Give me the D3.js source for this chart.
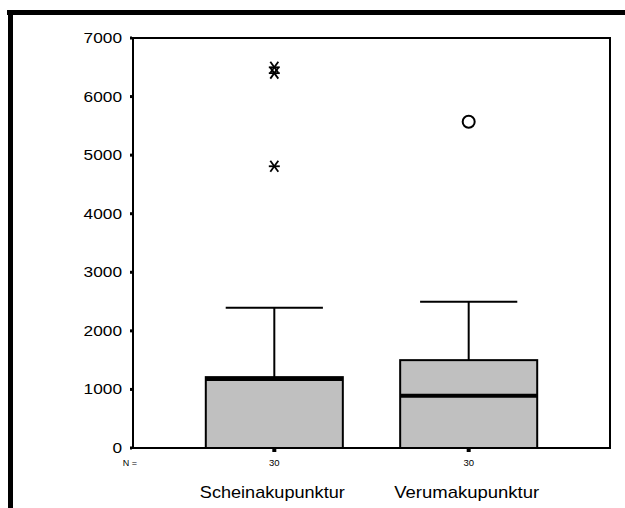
<!DOCTYPE html>
<html>
<head>
<meta charset="utf-8">
<script src="https://cdn.jsdelivr.net/npm/d3@7"></script>
<style>
body { margin: 0; background: #fff; }
text { font-family: Arial, "Liberation Sans", sans-serif; fill: #000; }
</style>
</head>
<body>
<svg width="625" height="508"></svg>
<script>
// box plot values
var categories = ["Scheinakupunktur", "Verumakupunktur"];
var counts = [30, 30];
var q1 = [0, 0];
var medians = [1180, 890];
var q3 = [1210, 1500];
var whiskerHigh = [2395, 2495];
var outliers = [[], [5570]];
var extremes = [[6500, 6400, 4810], []];
var yTicks = [0, 1000, 2000, 3000, 4000, 5000, 6000, 7000];

var svg = d3.select("svg"),
width = +svg.attr("width"),
height = +svg.attr("height");

// note: "top" is taken by window.top, so plotTop etc.
var plotLeft = 133, plotRight = 610, plotTop = 38, plotBottom = 448;

var y = d3.scaleLinear().domain([0, 7000]).range([plotBottom, plotTop]);
var x = d3.scalePoint().domain(categories).range([plotLeft, plotRight]).padding(0.727);
var step = x.step();

// outer frame (top + left only)
svg.append("line").attr("x1", 7).attr("x2", 625).attr("y1", 12.5).attr("y2", 12.5)
.attr("stroke", "#000").attr("stroke-width", 5);
svg.append("line").attr("x1", 10.5).attr("x2", 10.5).attr("y1", 10).attr("y2", 508)
.attr("stroke", "#000").attr("stroke-width", 5);

// plot frame
svg.append("rect")
.attr("x", plotLeft).attr("y", plotTop)
.attr("width", plotRight - plotLeft).attr("height", plotBottom - plotTop)
.attr("fill", "none").attr("stroke", "#000").attr("stroke-width", 2);

// y ticks + labels
svg.selectAll(".ytick")
.data(yTicks)
.enter().append("rect")
.attr("x", plotLeft - 3).attr("y", function(d) { return y(d) - 1.5; })
.attr("width", 2).attr("height", 3).attr("fill", "#000");

svg.selectAll(".ylab")
.data(yTicks)
.enter().append("text")
.attr("x", 122).attr("y", function(d) { return y(d) + 5; })
.attr("text-anchor", "end")
.attr("font-size", 14)
.attr("textLength", function(d) { return String(d).length * 9.6; })
.attr("lengthAdjust", "spacingAndGlyphs")
.text(function(d) { return d; });

var bw = step * 0.705, cw = step * 0.5;

var groups = svg.selectAll(".box")
.data(categories)
.enter().append("g");

// whiskers
groups.append("line")
.attr("x1", function(d) { return x(d); }).attr("x2", function(d) { return x(d); })
.attr("y1", function(d, i) { return y(q3[i]); })
.attr("y2", function(d, i) { return y(whiskerHigh[i]); })
.attr("stroke", "#000").attr("stroke-width", 2);

groups.append("line")
.attr("x1", function(d) { return x(d) - cw / 2; }).attr("x2", function(d) { return x(d) + cw / 2; })
.attr("y1", function(d, i) { return y(whiskerHigh[i]); })
.attr("y2", function(d, i) { return y(whiskerHigh[i]); })
.attr("stroke", "#000").attr("stroke-width", 2);

// boxes
groups.append("rect")
.attr("x", function(d) { return x(d) - bw / 2; })
.attr("y", function(d, i) { return y(q3[i]); })
.attr("width", bw)
.attr("height", function(d, i) { return y(q1[i]) - y(q3[i]); })
.attr("fill", "#c0c0c0").attr("stroke", "#000").attr("stroke-width", 2);

// medians
groups.append("line")
.attr("x1", function(d) { return x(d) - bw / 2; }).attr("x2", function(d) { return x(d) + bw / 2; })
.attr("y1", function(d, i) { return y(medians[i]); })
.attr("y2", function(d, i) { return y(medians[i]); })
.attr("stroke", "#000").attr("stroke-width", 4);

// outliers (circles) and extremes (asterisks)
groups.each(function(d, i) {
	var g = d3.select(this);
	g.selectAll("circle")
	.data(outliers[i])
	.enter().append("circle")
	.attr("cx", x(d)).attr("cy", function(v) { return y(v); })
	.attr("r", 6)
	.attr("fill", "none").attr("stroke", "#000").attr("stroke-width", 2);

	var star = g.selectAll(".star")
	.data(extremes[i])
	.enter().append("g")
	.attr("transform", function(v) { return "translate(" + x(d) + "," + y(v) + ")"; });
	star.append("line").attr("x1", -5.5).attr("x2", 5.5).attr("y1", 0).attr("y2", 0)
	.attr("stroke", "#000").attr("stroke-width", 1.8);
	star.append("line").attr("x1", -4).attr("x2", 4).attr("y1", -5.5).attr("y2", 5.5)
	.attr("stroke", "#000").attr("stroke-width", 1.8);
	star.append("line").attr("x1", 4).attr("x2", -4).attr("y1", -5.5).attr("y2", 5.5)
	.attr("stroke", "#000").attr("stroke-width", 1.8);
});

// x axis ticks under boxes
svg.selectAll(".xtick")
.data(categories)
.enter().append("rect")
.attr("x", function(d) { return x(d) - 2; }).attr("y", plotBottom + 1)
.attr("width", 4).attr("height", 3).attr("fill", "#000");

// N labels
svg.append("text")
.attr("x", 130).attr("y", 466)
.attr("text-anchor", "middle").attr("font-size", 9)
.text("N =");

svg.selectAll(".nlab")
.data(counts)
.enter().append("text")
.attr("x", function(d, i) { return x(categories[i]); }).attr("y", 466)
.attr("text-anchor", "middle").attr("font-size", 9.5)
.text(function(d) { return d; });

svg.selectAll(".cat")
.data(categories)
.enter().append("text")
.attr("x", function(d) { return x(d) - 2; }).attr("y", 498)
.attr("text-anchor", "middle").attr("font-size", 17)
.attr("textLength", 145)
.attr("lengthAdjust", "spacingAndGlyphs")
.text(function(d) { return d; });
</script>
</body>
</html>
